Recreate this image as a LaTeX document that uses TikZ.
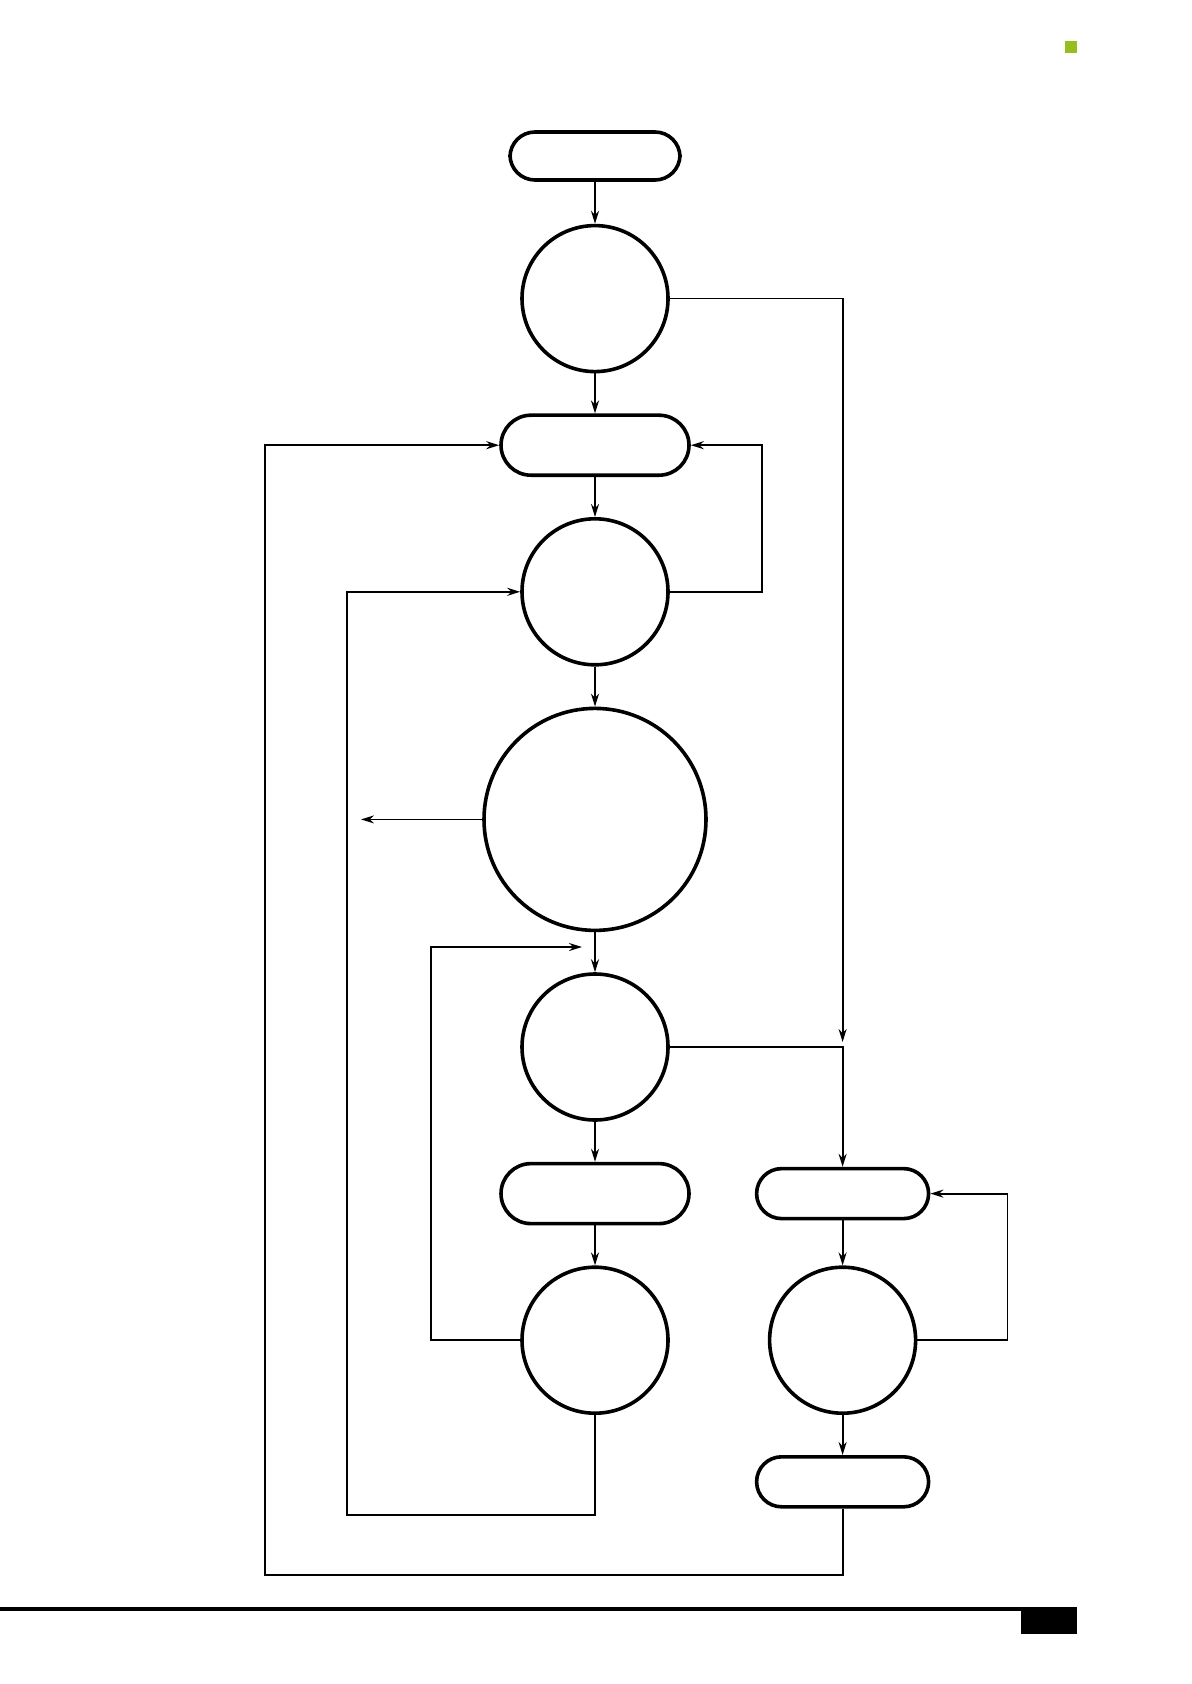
\documentclass[tikz,border=0pt]{standalone}
\usepackage{tikz}
\usetikzlibrary{arrows.meta, positioning, calc}
\definecolor{cLime}{RGB}{150,190,30}
\tikzset{
	terminal/.style ={rectangle, rounded corners=15pt, minimum width=94pt, minimum height=30pt, draw=black, line width=1.8pt, fill=white},
	termsmall/.style={terminal, rounded corners=12.5pt, minimum width=85pt, minimum height=24pt},
	termright/.style={terminal, rounded corners=12.5pt, minimum width=86pt, minimum height=25pt},
	state/.style    ={circle, minimum size=73pt, inner sep=0pt, draw=black, line width=1.8pt},
	bigstate/.style ={state, minimum size=111pt},
	flowarrow/.style={-{Stealth[length=6.5pt, width=4pt]}, line width=0.9pt},
	% page decoration
	pagerule/.style ={line width=2pt},
}

\begin{document}
\begin{tikzpicture}[x=0.5pt, y=-0.5pt, node distance=20pt]
	\useasboundingbox (0,0) rectangle (1191,1684);
	\fill[cLime] (1065,41) rectangle (1077,53);
	\draw[pagerule] (0,1609) -- (1021,1609);
	\fill[black] (1021,1607) rectangle (1077,1634);
	% main column
	\node[termsmall] (t1) at (595,156) {};
	\node[state, below=21pt of t1] (c1) {};
	\node[terminal, below=of c1] (t2) {};
	\node[state, below=of t2] (c2) {};
	\node[bigstate, below=of c2] (big) {};
	\node[state, below=of big] (c3) {};
	\node[terminal, below=of c3] (t3) {};
	\node[state, below=of t3] (c4) {};
	% right column
	\node[termright, right=32pt of t3] (t4) {};
	\node[state, below=22.5pt of t4] (c5) {};
	\node[termright, below=of c5] (t5) {};
	\draw[flowarrow](t1)--(c1); \draw[flowarrow](c1)--(t2); \draw[flowarrow](t2)--(c2);
	\draw[flowarrow](c2)--(big); \draw[flowarrow](big)--(c3); \draw[flowarrow](c3)--(t3);
	\draw[flowarrow](t3)--(c4); \draw[flowarrow](t4)--(c5); \draw[flowarrow](c5)--(t5);
	% side paths
	\coordinate (j1) at (t4.north |- c3.east);
	\draw[flowarrow](c1.east) -| ([yshift=2.5pt]j1);
	\draw[flowarrow](c3.east) -| (t4.north);
	\draw[flowarrow](c2.east) -- ++(46pt,0) |- (t2.east);
	\draw[flowarrow](c5.east) -- ++(45pt,0) |- (t4.east);
	\coordinate (lo) at (265,1575);
	\draw[flowarrow](t5.south) |- (lo) |- (t2.west);
	\coordinate (lm) at (347,1515);
	\draw[flowarrow](c4.south) |- (lm) |- (c2.west);
	\coordinate (li) at (431,947);
	\coordinate (lie) at (582,947);
	\draw[flowarrow](c4.west) -| (li) -- (lie);
	\coordinate (exit) at (361,0);
	\draw[flowarrow](big.west) -- (big.west -| exit);
\end{tikzpicture}
\end{document}
